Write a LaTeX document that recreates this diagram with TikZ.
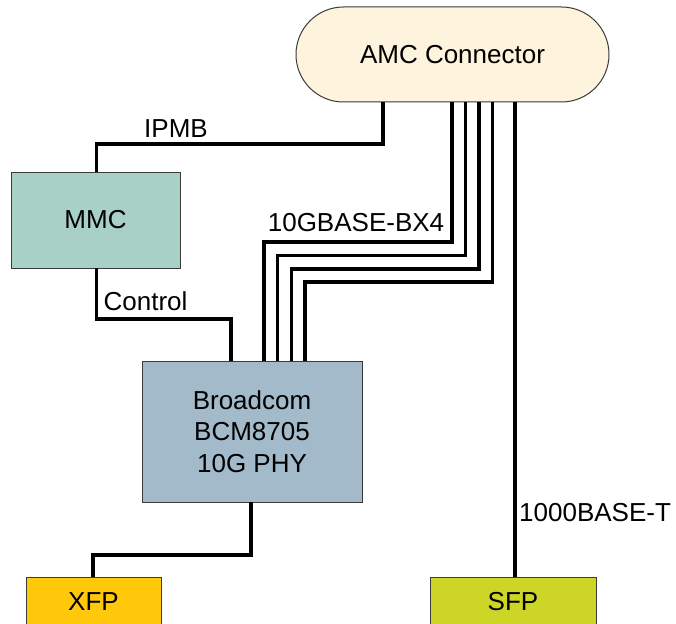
\documentclass[tikz,border=0pt]{standalone}
\usepackage{fontspec}
\setmainfont{Liberation Sans}
\definecolor{amcfill}{HTML}{FEF3DC}
\definecolor{mmcfill}{HTML}{A9D0C6}
\definecolor{bcmfill}{HTML}{A3BACA}
\definecolor{xfpfill}{HTML}{FFC80B}
\definecolor{sfpfill}{HTML}{CDD626}
\definecolor{boxline}{HTML}{3A3A3A}
\begin{document}
\begin{tikzpicture}[x=1pt,y=-1pt,
  box/.style={draw=boxline, line width=1pt, outer sep=0pt, inner sep=0pt,
    font=\fontsize{26}{31.5}\selectfont, align=center},
  wire/.style={line width=3.8pt, black},
  lbl/.style={font=\fontsize{26}{31.5}\selectfont, inner sep=0pt}]
\useasboundingbox (0,0) rectangle (676,623);
\clip (0,0) rectangle (676,623);
\node[box, fill=amcfill, minimum width=313pt, minimum height=95pt, rounded corners=47.5pt] (amc) at (452.5,54.5) {AMC Connector};
\node[box, fill=mmcfill, minimum width=169pt, minimum height=96pt] (mmc) at (95.5,220) {MMC};
\node[box, fill=bcmfill, minimum width=220pt, minimum height=141pt] (bcm) at (252,431.5) {Broadcom\\BCM8705\\10G PHY};
\node[box, fill=xfpfill, minimum width=135pt, minimum height=50pt] (xfp) at (93.5,602) {XFP};
\node[box, fill=sfpfill, minimum width=166pt, minimum height=50pt] (sfp) at (513,602) {SFP};
% wires
\draw[wire] (amc.south -| 383,0) |- (96.5,144) -- (mmc.north -| 96.5,0);
\draw[wire] (mmc.south -| 96.5,0) |- (231,319) -- (bcm.north -| 231,0);
\foreach \a/\yy/\b in {452/242/264, 465.5/255.5/277.5, 479/269/291.5, 492.5/282/305}{
  \draw[wire] (amc.south -| \a,0) |- (\b,\yy) -- (bcm.north -| \b,0);
}
\draw[wire] (amc.south -| 515,0) -- (sfp.north -| 515,0);
\draw[wire] (bcm.south -| 251,0) |- (93,555) -- (xfp.north -| 93,0);
% labels
\node[lbl] (ipmb) at (176,129) {IPMB};
\node[lbl] (ctrl) at (145.5,301) {Control};
\node[lbl] (bx4) at (356,223) {10GBASE-BX4};
\node[lbl, anchor=west] (gbt) at (519,512.5) {1000BASE-T};
\end{tikzpicture}
\end{document}
